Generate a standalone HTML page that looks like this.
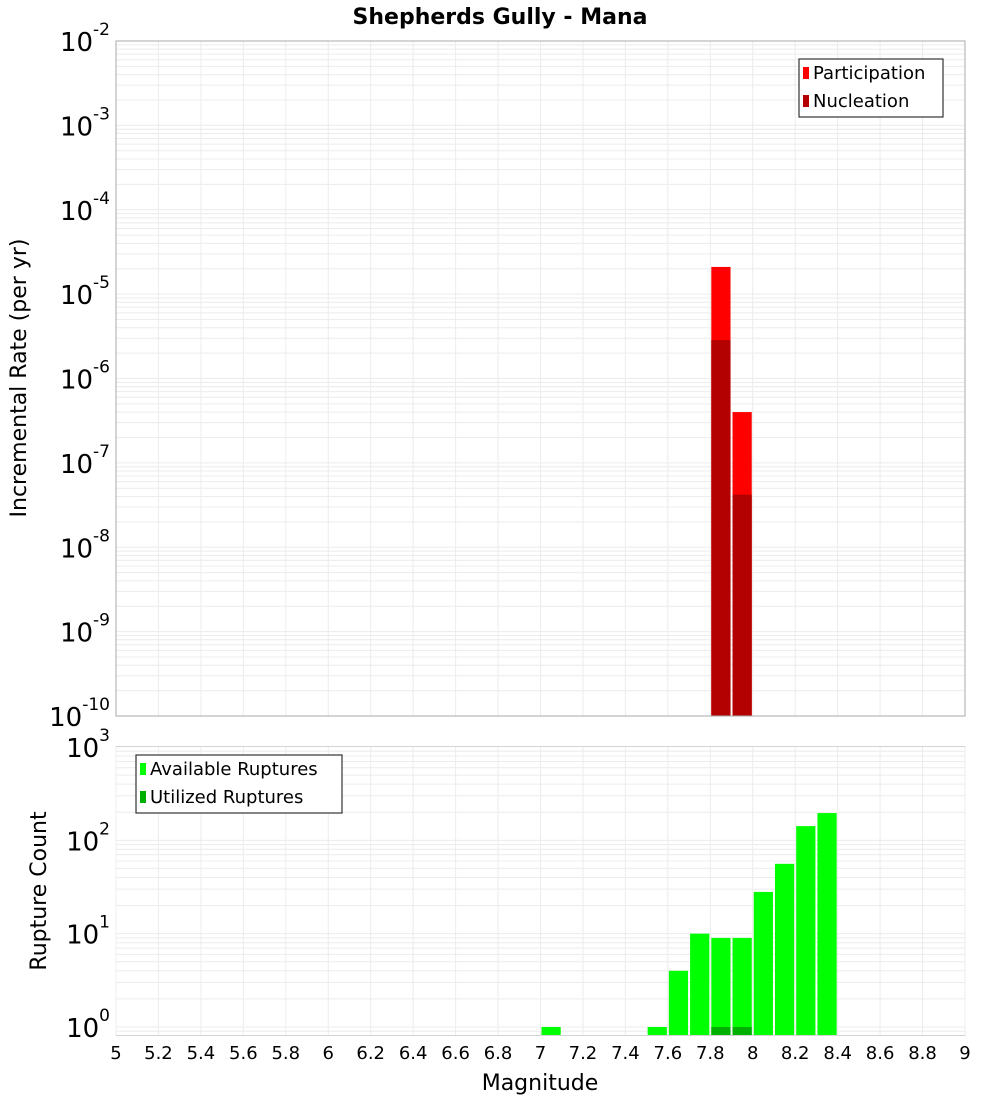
<!DOCTYPE html>
<html><head><meta charset="utf-8"><style>
body{margin:0;background:#fff;font-family:"DejaVu Sans","Liberation Sans",sans-serif}
svg text{font-family:"DejaVu Sans","Liberation Sans",sans-serif}
</style></head><body>
<svg id="chart" width="1000" height="1100" viewBox="0 0 1000 1100" xmlns="http://www.w3.org/2000/svg">
<text x="500" y="24" text-anchor="middle" font-size="22" font-weight="bold">Shepherds Gully - Mana</text>
<g id="top"></g>
<g id="bot"></g>
<text transform="translate(26,378) rotate(-90)" text-anchor="middle" font-size="22">Incremental Rate (per yr)</text>
<text transform="translate(46,891) rotate(-90)" text-anchor="middle" font-size="22">Rupture Count</text>
<text x="540" y="1090" text-anchor="middle" font-size="22">Magnitude</text>
</svg>
<script>
const xTicks=[5,5.2,5.4,5.6,5.8,6,6.2,6.4,6.6,6.8,7,7.2,7.4,7.6,7.8,8,8.2,8.4,8.6,8.8,9];
const rateMags=[7.85,7.95];
const participation=[2.1e-5,4e-7];
const nucleation=[2.85e-6,4.2e-8];
const countMags=[7.05,7.55,7.65,7.75,7.85,7.95,8.05,8.15,8.25,8.35];
const available=[1,1,4,10,9,9,28,56,142,196];
const utilMags=[7.85,7.95];
const utilized=[1,1];
const rateExps=[-10,-9,-8,-7,-6,-5,-4,-3,-2];
const countExps=[0,1,2,3];

const NS="http://www.w3.org/2000/svg";
const L=116,R=965;
const X=m=>L+(m-5)/4*(R-L);
function mk(p,t,a){const e=document.createElementNS(NS,t);for(const k in a)e.setAttribute(k,a[k]);p.appendChild(e);return e;}
function plot(g,top,bot,ymin,ymax,exps,yLog){
  const Y=v=>bot-(Math.log10(v)-ymin)/(ymax-ymin)*(bot-top);
  mk(g,'rect',{x:L,y:top,width:R-L,height:bot-top,fill:'#fff'});
  for(let d=Math.floor(ymin);d<ymax;d++)for(let k=1;k<10;k++){const v=k*Math.pow(10,d);const lv=Math.log10(v);if(lv<ymin||lv>ymax)continue;
    const l=mk(g,'line',{x1:L,x2:R,y1:Y(v),y2:Y(v),stroke:'#ececec','stroke-width':1});
    }
  xTicks.forEach(t=>{const l=mk(g,'line',{x1:X(t),x2:X(t),y1:top,y2:bot,stroke:'#ececec','stroke-width':1});
    });
  exps.forEach(e=>{const y=Y(Math.pow(10,e));const t=mk(g,'text',{x:110,y:y+10,'text-anchor':'end','font-size':26});
    
    t.textContent='10';const s=mk(t,'tspan',{dy:-16,'font-size':17});s.textContent=String(e);});
  return Y;
}
const gt=document.getElementById('top'),gb=document.getElementById('bot');
const Yt=plot(gt,41,716,-10,-2,rateExps);
const Yb=plot(gb,747,1035,-0.086,3,countExps);
function bars(g,Y,mags,vals,bot,col,name){
  mags.forEach((m,i)=>{const x0=X(m-0.05)+1,x1=X(m+0.05)-1;const y=Y(vals[i]);
    const r=mk(g,'rect',{x:x0,y:y,width:x1-x0,height:bot-y,fill:col});
    });
}
bars(gt,Yt,rateMags,participation,716,'#ff0000','participation-bar');
bars(gt,Yt,rateMags,nucleation,716,'#b30000','nucleation-bar');
bars(gb,Yb,countMags,available,1035,'#00ff00','available-bar');
bars(gb,Yb,utilMags,utilized,1035,'#00b000','utilized-bar');
[[41,716],[747,1035]].forEach(([t,b])=>mk(gt,'rect',{x:L,y:t,width:R-L,height:b-t,fill:'none',stroke:'#aaa','stroke-width':1}));
xTicks.forEach(t=>{const e=mk(gb,'text',{x:X(t),y:1059,'text-anchor':'middle','font-size':18});
  
  e.textContent=String(t);});
function legend(g,x,y,w,items,name){
  const lg=mk(g,'g',{});
  mk(lg,'rect',{x:x,y:y,width:w,height:58,fill:'#fff',stroke:'#333','stroke-width':1.2});
  items.forEach((it,i)=>{const ent=mk(lg,'g',{});
    mk(ent,'rect',{x:x+4,y:y+8+i*28,width:6,height:12,fill:it[1]});
    const t=mk(ent,'text',{x:x+14,y:y+20+i*28,'font-size':18});t.textContent=it[0];});
}
legend(gt,799,59,144,[['Participation','#ff0000'],['Nucleation','#b30000']],'rate-legend');
legend(gb,136,755,206,[['Available Ruptures','#00ff00'],['Utilized Ruptures','#00b000']],'count-legend');
</script>
</body></html>
